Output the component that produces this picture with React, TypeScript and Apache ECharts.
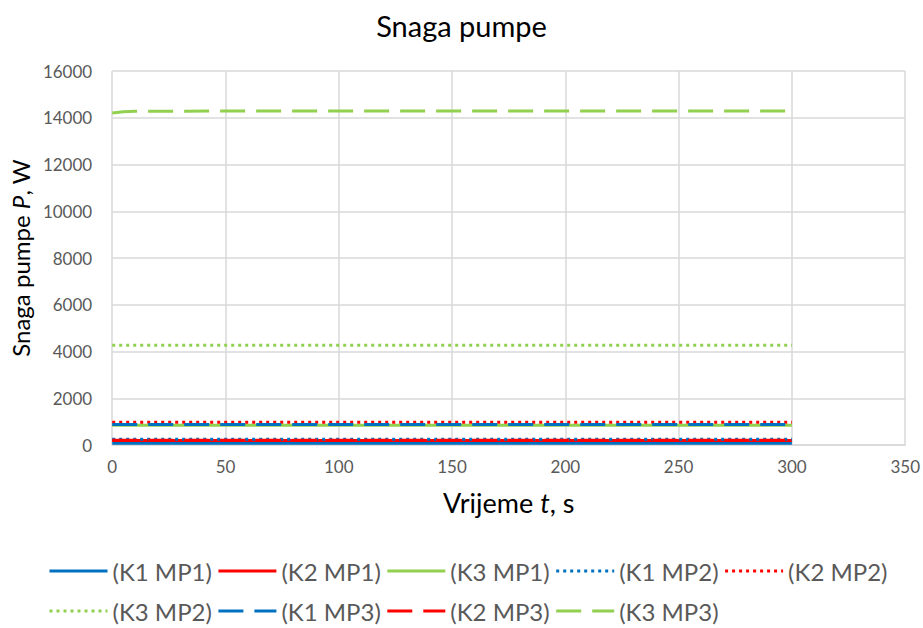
import React, { useEffect, useRef } from "react";
import * as echarts from "echarts";

const times = [0, 5, 10, 20, 50, 100, 150, 200, 250, 300];
const k1mp1 = [80, 80, 80, 80, 80, 80, 80, 80, 80, 80];
const k2mp1 = [190, 190, 190, 190, 190, 190, 190, 190, 190, 190];
const k3mp1 = [840, 840, 840, 840, 840, 840, 840, 840, 840, 840];
const k1mp2 = [245, 245, 245, 245, 245, 245, 245, 245, 245, 245];
const k2mp2 = [975, 975, 975, 975, 975, 975, 975, 975, 975, 975];
const k3mp2 = [4270, 4270, 4270, 4270, 4270, 4270, 4270, 4270, 4270, 4270];
const k1mp3 = [880, 880, 880, 880, 880, 880, 880, 880, 880, 880];
const k2mp3 = [200, 200, 200, 200, 200, 200, 200, 200, 200, 200];
const k3mp3 = [14200, 14260, 14275, 14280, 14285, 14290, 14290, 14290, 14290, 14290];

const names = ["(K1 MP1)", "(K2 MP1)", "(K3 MP1)", "(K1 MP2)", "(K2 MP2)", "(K3 MP2)", "(K1 MP3)", "(K2 MP3)", "(K3 MP3)"];
const values = [k1mp1, k2mp1, k3mp1, k1mp2, k2mp2, k3mp2, k1mp3, k2mp3, k3mp3];
const colors = ["#0070C0", "#FF0000", "#92D050", "#0070C0", "#FF0000", "#92D050", "#0070C0", "#FF0000", "#92D050"];
const dashes: any[] = ["solid", "solid", "solid", [3, 4], [3, 4], [3, 4], [25, 11], [25, 11], [25, 11]];

const FONT = "Lato";

export default function App() {
  const ref = useRef<HTMLDivElement>(null);
  useEffect(() => {
    const chart = echarts.init(ref.current!, null, { renderer: "svg" });
    const series = names.map((n, i) => ({
      name: n,
      type: "line",
      data: times.map((t, j) => [t, values[i][j]]),
      showSymbol: false,
      symbol: "none",
      lineStyle: { color: colors[i], width: 3, type: dashes[i], cap: "butt" },
      itemStyle: { color: colors[i] },
    }));
    const legendCommon = {
      left: 48,
      itemWidth: 58,
      itemHeight: 12,
      itemGap: 5,
      padding: 0,
      itemStyle: { opacity: 0 },
      lineStyle: { width: 3 },
      textStyle: { fontFamily: FONT, fontSize: 24, color: "#595959" },
    };
    chart.setOption({
      animation: false,
      backgroundColor: "#fff",
      title: {
        text: "Snaga pumpe",
        left: "center",
        top: 6,
        textStyle: { fontFamily: FONT, fontSize: 29, fontWeight: "normal", color: "#000" },
      },
      grid: { left: 112, right: 16, top: 71, bottom: 183, containLabel: false },
      legend: [
        { ...legendCommon, top: 559, data: names.slice(0, 5) },
        { ...legendCommon, top: 599, data: names.slice(5) },
      ],
      xAxis: {
        type: "value",
        min: 0,
        max: 350,
        interval: 50,
        name: "Vrijeme {i|t}, s",
        nameLocation: "middle",
        nameGap: 44,
        nameTextStyle: {
          fontFamily: FONT,
          fontSize: 27,
          color: "#000",
          rich: { i: { fontFamily: FONT, fontSize: 27, fontStyle: "italic", color: "#000" } },
        },
        axisLine: { lineStyle: { color: "#d9d9d9", width: 1.5 } },
        axisTick: { show: false },
        axisLabel: { fontFamily: FONT, fontSize: 17, color: "#595959", margin: 13 },
        splitLine: { show: true, lineStyle: { color: "#d9d9d9", width: 1.5 } },
      },
      yAxis: {
        type: "value",
        min: 0,
        max: 16000,
        interval: 2000,
        name: "Snaga pumpe {i|P}, W",
        nameLocation: "middle",
        nameGap: 80,
        nameRotate: 90,
        nameTextStyle: {
          fontFamily: FONT,
          fontSize: 24,
          color: "#000",
          rich: { i: { fontFamily: FONT, fontSize: 24, fontStyle: "italic", color: "#000" } },
        },
        axisLine: { show: false },
        axisTick: { show: false },
        axisLabel: { fontFamily: FONT, fontSize: 17, color: "#595959", margin: 20, formatter: (v: number) => String(v) },
        splitLine: { show: true, lineStyle: { color: "#d9d9d9", width: 1.5 } },
      },
      series,
    });
    return () => chart.dispose();
  }, []);
  return <div ref={ref} style={{ position: "fixed", left: 0, top: 0, width: 923, height: 628 }} />;
}
